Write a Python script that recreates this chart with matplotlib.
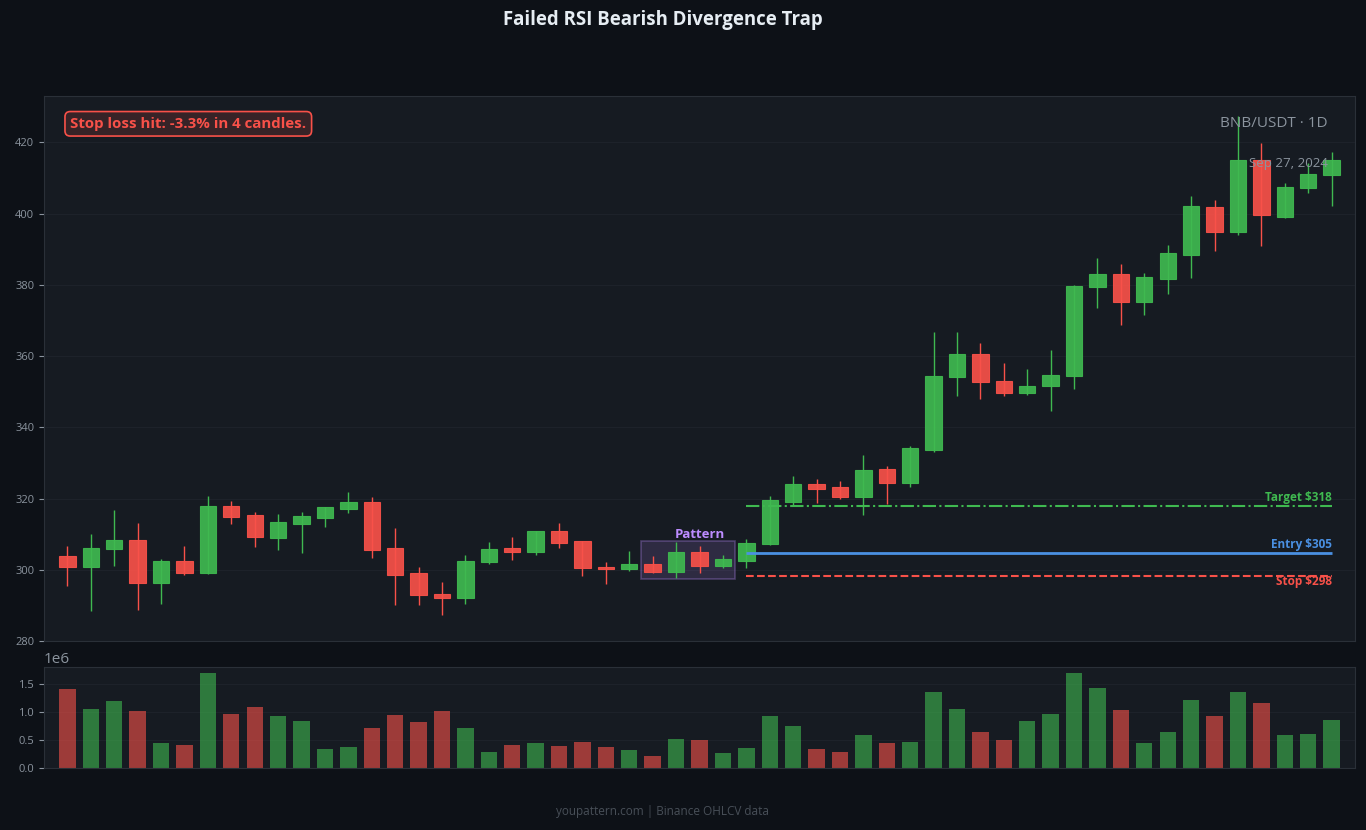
import matplotlib
matplotlib.use("Agg")
import matplotlib.pyplot as plt
from matplotlib.patches import Rectangle
import numpy as np

plt.rcParams['font.family'] = ['Open Sans', 'DejaVu Sans']

# ---------------- data ----------------
opens = [303.9, 300.9, 305.7, 308.3, 296.4, 302.4, 299.2, 317.8, 315.3, 309.0,
         312.9, 314.6, 317.1, 318.9, 306.0, 299.0, 293.1, 292.0, 302.1, 306.0,
         305.1, 310.8, 308.0, 300.8, 300.1, 301.5, 299.4, 304.9, 301.1, 302.5,
         307.3, 319.1, 324.2, 323.1, 320.5, 328.2, 324.4, 333.6, 354.2, 360.7,
         353.1, 349.7, 351.6, 354.5, 379.3, 382.9, 375.3, 381.5, 388.5, 401.7,
         394.7, 414.9, 399.0, 407.3, 410.8]
closes = [300.9, 306.0, 308.3, 296.4, 302.4, 299.2, 317.8, 314.9, 309.3, 313.3,
          315.0, 317.5, 318.9, 305.6, 298.6, 293.0, 292.0, 302.4, 305.7, 305.1,
          310.8, 307.4, 300.4, 300.2, 301.5, 299.4, 304.9, 301.1, 302.9, 307.4,
          319.5, 324.2, 322.7, 320.5, 327.9, 324.4, 334.1, 354.5, 360.7, 352.8,
          349.7, 351.7, 354.8, 379.6, 382.9, 375.3, 382.1, 388.8, 402.0, 394.7,
          414.9, 399.5, 407.5, 411.2, 414.9]
highs = [306.7, 310.0, 316.8, 313.1, 303.0, 306.7, 320.7, 319.3, 316.2, 315.6,
         316.2, 317.6, 321.8, 320.4, 311.7, 300.8, 296.6, 304.1, 307.8, 309.2,
         311.0, 313.1, 308.2, 302.2, 305.3, 303.8, 307.8, 306.7, 304.1, 308.6,
         320.7, 326.3, 325.5, 324.9, 332.2, 329.2, 334.8, 366.7, 366.7, 363.6,
         358.0, 356.3, 361.6, 380.0, 387.5, 385.8, 383.3, 391.1, 404.9, 403.7,
         427.3, 419.7, 408.5, 414.1, 417.2]
lows = [295.5, 288.4, 301.1, 288.7, 290.5, 298.5, 298.9, 312.8, 306.4, 305.5,
        304.7, 312.0, 315.9, 303.4, 290.2, 290.2, 287.4, 290.5, 301.6, 302.8,
        304.1, 306.2, 298.3, 296.0, 299.7, 299.1, 297.7, 299.1, 300.5, 300.5,
        306.9, 318.0, 318.7, 319.8, 315.4, 318.4, 323.3, 333.1, 348.7, 348.0,
        348.7, 349.0, 344.5, 350.7, 373.5, 368.8, 371.6, 377.5, 381.9, 389.4,
        393.9, 390.9, 398.7, 405.7, 402.1]
volumes = [1.40, 1.05, 1.19, 1.01, 0.44, 0.41, 1.70, 0.96, 1.08, 0.92,
           0.83, 0.34, 0.37, 0.71, 0.94, 0.82, 1.01, 0.71, 0.28, 0.41,
           0.44, 0.39, 0.46, 0.37, 0.32, 0.21, 0.51, 0.50, 0.27, 0.35,
           0.92, 0.74, 0.34, 0.28, 0.58, 0.44, 0.46, 1.36, 1.06, 0.64,
           0.50, 0.83, 0.97, 1.70, 1.42, 1.03, 0.44, 0.65, 1.21, 0.92,
           1.35, 1.15, 0.58, 0.60, 0.85]
volumes = [v * 1e6 for v in volumes]

pattern_start, pattern_end = 25, 28
entry_idx = 29
entry_price = 304.8
target_price = 318.0
stop_price = 298.2
symbol = "BNB/USDT · 1D"
date_label = "Sep 27, 2024"
title = "Failed RSI Bearish Divergence Trap"
note = "Stop loss hit: -3.3% in 4 candles."
footer = "youpattern.com | Binance OHLCV data"

# ---------------- style ----------------
FIG_BG = "#0d1117"
AX_BG = "#161b22"
GREEN = "#3fb950"
RED = "#f85149"
BLUE = "#4a90e2"
PURPLE = "#bc8cff"
GRID = "#1d222a"
SPINE = "#2a3038"
TXT = "#8b949e"

fig = plt.figure(figsize=(13.66, 8.30), dpi=100, facecolor=FIG_BG)
ax = fig.add_axes([44/1366, (830-641)/830, 1311/1366, 545/830])
axv = fig.add_axes([44/1366, (830-768)/830, 1311/1366, 101/830], sharex=ax)

for a in (ax, axv):
    a.set_facecolor(AX_BG)
    for s in a.spines.values():
        s.set_color(SPINE)
    a.tick_params(colors=TXT, labelsize=8, length=3.5)
    a.grid(axis='y', color=GRID, linewidth=0.8)
    a.set_axisbelow(True)
    a.tick_params(axis='x', bottom=False, labelbottom=False)

n = len(opens)
x = np.arange(n)
w = 0.7
for i in range(n):
    up = closes[i] >= opens[i]
    c = GREEN if up else RED
    ax.vlines(x[i], lows[i], highs[i], color=c, linewidth=1.0, zorder=2)
    lo = min(opens[i], closes[i])
    h = max(abs(closes[i] - opens[i]), 0.4)
    ax.add_patch(Rectangle((x[i] - w/2, lo), w, h, facecolor=c, edgecolor=c,
                           linewidth=0.8, alpha=0.92, zorder=3))

ax.set_xlim(-1, n)
ax.set_ylim(280, 433)
ax.set_yticks(np.arange(280, 421, 20))

# pattern box
pl = min(lows[pattern_start:pattern_end+1]) - 0.3
ph = max(highs[pattern_start:pattern_end+1]) + 0.3
ax.add_patch(Rectangle((pattern_start - 0.5, pl), pattern_end - pattern_start + 1, ph - pl,
                       facecolor=PURPLE, alpha=0.15, edgecolor="none", zorder=1))
ax.add_patch(Rectangle((pattern_start - 0.5, pl), pattern_end - pattern_start + 1, ph - pl,
                       facecolor="none", edgecolor=PURPLE, alpha=0.3, linewidth=1.2, zorder=1))
ax.text((pattern_start + pattern_end + 1) / 2, ph, "Pattern", color=PURPLE,
        fontsize=9.5, fontweight='bold', ha='center', va='bottom', zorder=5)

# levels
ax.hlines(target_price, entry_idx, n - 1, colors=GREEN, linestyles='-.', linewidth=1.5, zorder=4)
ax.hlines(entry_price, entry_idx, n - 1, colors=BLUE, linestyles='-', linewidth=2.0, zorder=4)
ax.hlines(stop_price, entry_idx, n - 1, colors=RED, linestyles='--', linewidth=1.5, zorder=4)
ax.text(n - 1, target_price + 0.5, f"Target ${target_price:.0f}", color=GREEN, fontsize=8.5,
        fontweight='bold', ha='right', va='bottom', zorder=5)
ax.text(n - 1, entry_price + 0.5, f"Entry ${entry_price:.0f}", color=BLUE, fontsize=8.5,
        fontweight='bold', ha='right', va='bottom', zorder=5)
ax.text(n - 1, stop_price + 0.3, f"Stop ${stop_price:.0f}", color=RED, fontsize=8.5,
        fontweight='bold', ha='right', va='top', zorder=5)

ax.text(0.979, 0.949, symbol, transform=ax.transAxes, color=TXT, fontsize=11,
        ha='right', va='center', zorder=6)
ax.text(0.979, 0.877, date_label, transform=ax.transAxes, color="#8b949e", fontsize=9.6,
        ha='right', va='center', zorder=6)
ax.text(0.02, 0.949, note, transform=ax.transAxes, color=RED, fontsize=10.8,
        fontweight='bold', ha='left', va='center', zorder=6,
        bbox=dict(boxstyle='round,pad=0.35', facecolor=(248/255, 81/255, 73/255, 0.15),
                  edgecolor=RED, linewidth=1.2))

# volume
vcols = [GREEN if closes[i] >= opens[i] else RED for i in range(n)]
axv.bar(x, volumes, width=0.7, color=vcols, alpha=0.6, zorder=2)
axv.set_ylim(0, 1.8e6)
axv.set_yticks([0, 0.5e6, 1.0e6, 1.5e6])
axv.yaxis.get_offset_text().set_color(TXT)
axv.yaxis.get_offset_text().set_fontsize(11)

fig.text(663/1366, 1 - 20/830, title, color="#e6edf3", fontsize=13.4, fontweight='bold',
         ha='center', va='center')
fig.text(663/1366, 1 - 811/830, footer, color="#484f58", fontsize=8.5, ha='center', va='center')

fig.savefig("out.png", dpi=100, facecolor=FIG_BG)
